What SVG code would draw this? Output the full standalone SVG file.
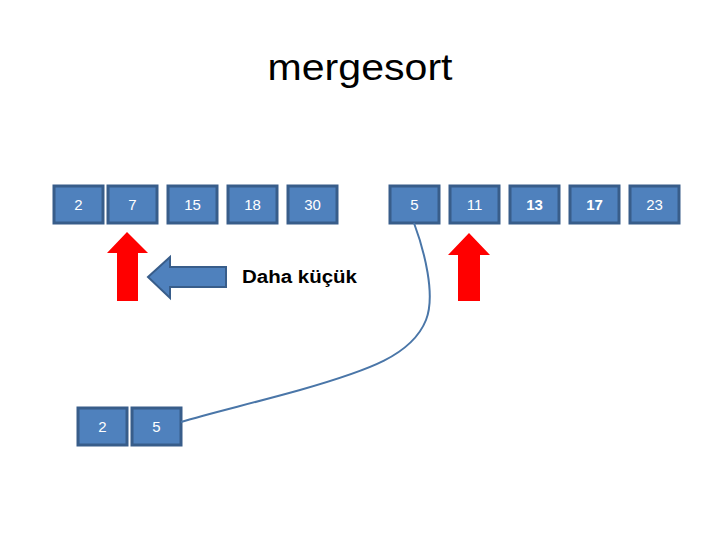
<svg xmlns="http://www.w3.org/2000/svg" width="720" height="540" viewBox="0 0 720 540">
<style>
.box rect{fill:#4f81bd;stroke:#385d8a;stroke-width:3}
.box text{fill:#fff;font-family:"Liberation Sans",Arial,sans-serif;font-size:15px;text-anchor:middle}
.b text{font-weight:bold}
.red{fill:#ff0000}
</style>
<rect width="720" height="540" fill="#fff"/>
<text x="360" y="80" font-family="Liberation Sans,Arial,sans-serif" font-size="36" text-anchor="middle" textLength="185" lengthAdjust="spacingAndGlyphs" fill="#000">mergesort</text>
<g id="a2" class="box"><rect x="54" y="186" width="49" height="37"/><text x="78.5" y="210">2</text></g>
<g id="a7" class="box"><rect x="108" y="186" width="49" height="37"/><text x="132.5" y="210">7</text></g>
<g id="a15" class="box"><rect x="168" y="186" width="49" height="37"/><text x="192.5" y="210">15</text></g>
<g id="a18" class="box"><rect x="228" y="186" width="49" height="37"/><text x="252.5" y="210">18</text></g>
<g id="a30" class="box"><rect x="288" y="186" width="49" height="37"/><text x="312.5" y="210">30</text></g>
<g id="b5" class="box"><rect x="390" y="186" width="49" height="37"/><text x="414.5" y="210">5</text></g>
<g id="b11" class="box"><rect x="450" y="186" width="49" height="37"/><text x="474.5" y="210">11</text></g>
<g id="b13" class="box b"><rect x="510" y="186" width="49" height="37"/><text x="534.5" y="210">13</text></g>
<g id="b17" class="box b"><rect x="570" y="186" width="49" height="37"/><text x="594.5" y="210">17</text></g>
<g id="b23" class="box"><rect x="630" y="186" width="49" height="37"/><text x="654.5" y="210">23</text></g>
<g id="c2" class="box"><rect x="78" y="408" width="49" height="37"/><text x="102.5" y="432">2</text></g>
<g id="c5" class="box"><rect x="132" y="408" width="49" height="37"/><text x="156.5" y="432">5</text></g>
<g id="arrows">
<polygon class="red" points="127,232 148,253 138,253 138,301 117,301 117,253 107,253"/>
<polygon class="red" points="469,233 490,255 480,255 480,301 458,301 458,255 448,255"/>
<polygon points="148,277 170,257 170,267 226,267 226,287 170,287 170,298" fill="#4f81bd" stroke="#385d8a" stroke-width="2"/>
</g>
<text x="242" y="283" font-family="Liberation Sans,Arial,sans-serif" font-size="18" font-weight="bold" textLength="115" lengthAdjust="spacingAndGlyphs" fill="#000">Daha küçük</text>
<g id="connectors">
<path d="M414,223 C424,250 436,295 426,320 C412,355 370,370 300,390 C250,404 210,413 181,422" fill="none" stroke="#4a76a8" stroke-width="2"/>
</g>
</svg>
